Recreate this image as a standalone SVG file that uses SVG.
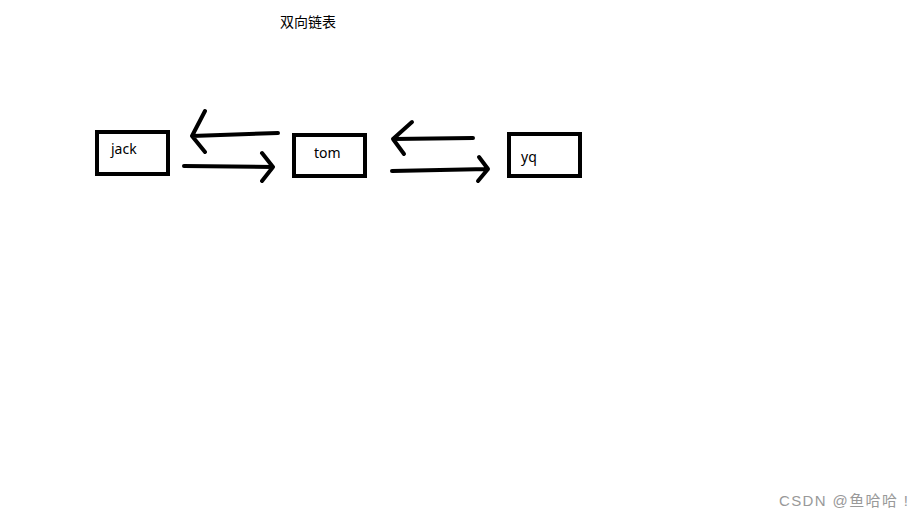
<svg xmlns="http://www.w3.org/2000/svg" width="922" height="519" viewBox="0 0 922 519">
<style>
.box{fill:#fff;stroke:#000;stroke-width:4}
.lbl{font-family:"Noto Sans","Liberation Sans","Noto Sans CJK SC",sans-serif;font-size:14px;fill:#000}
.ln{fill:none;stroke:#000;stroke-width:4;stroke-linecap:round;stroke-linejoin:round}
.wm{font-family:"Liberation Sans","Noto Sans CJK SC",sans-serif;font-size:15px;fill:#999}
</style>
<rect width="922" height="519" fill="#fff"/>
<text class="lbl" x="308" y="27" text-anchor="middle" font-family="'Noto Sans CJK SC',sans-serif">双向链表</text>
<g id="jack">
<rect class="box" x="97" y="132" width="71" height="42"/>
<text class="lbl" x="111" y="154">jack</text>
</g>
<g id="tom">
<rect class="box" x="294" y="135" width="71" height="41"/>
<text class="lbl" x="314" y="158">tom</text>
</g>
<g id="yq">
<rect class="box" x="509" y="134" width="71" height="42"/>
<text class="lbl" x="521" y="162">yq</text>
</g>
<g id="connectors">
<path class="ln" d="M278,133 L192,136 M205,111 L192,136 L205,152"/>
<path class="ln" d="M184,166 L273,167 M262,153 L273,167 L262,181"/>
<path class="ln" d="M473,138 L393,139 M412,122 L393,139 L404,154"/>
<path class="ln" d="M392,171 L488,169 M479,157 L488,169 L478,181"/>
</g>
<text class="wm" x="779" y="506" textLength="129" lengthAdjust="spacing">CSDN @鱼哈哈 !</text>
</svg>
